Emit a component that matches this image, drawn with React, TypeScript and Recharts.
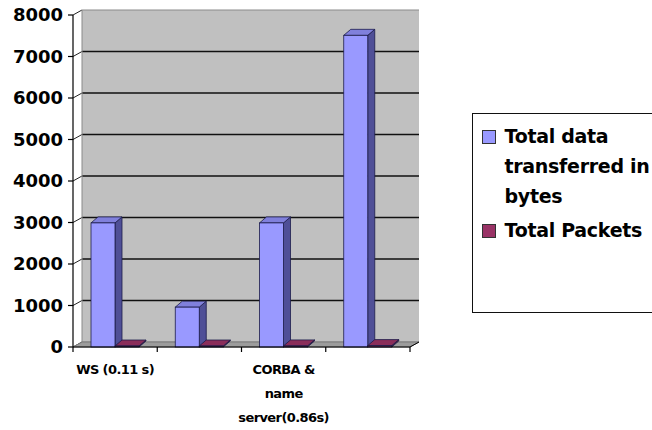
import React from "react";
import {
  BarChart,
  Bar,
  XAxis,
  YAxis,
  CartesianGrid,
  ReferenceArea,
  Legend,
} from "recharts";

const categories = ["WS (0.11 s)", "", "CORBA &\nname\nserver(0.86s)", ""];
const totalBytes = [2990, 960, 2990, 7510];
const totalPackets = [24, 10, 26, 34];
const yTicks = [0, 1000, 2000, 3000, 4000, 5000, 6000, 7000, 8000];
const seriesNames = ["Total data transferred in bytes", "Total Packets"];

const data = categories.map((name, i) => ({
  name,
  bytes: totalBytes[i],
  packets: totalPackets[i],
}));

// 3d look, Excel style
const DX = 9;
const DY = 5;
const BAR_DX = 7;
const BAR_DY = 6;
const PLOT_LEFT = 73;
const PLOT_RIGHT = 410;
const PLOT_TOP = 15;
const PLOT_BOTTOM = 347;
const BAND = (PLOT_RIGHT - PLOT_LEFT) / categories.length;
const FONT = "'DejaVu Sans', Verdana, sans-serif";

function Bar3D(props: any) {
  const { x, y, width, height, face, side, top } = props;
  if (width == null || height == null) return null;
  const stroke = "#1c1c4a";
  return (
    <g>
      <polygon
        points={`${x + width},${y} ${x + width + BAR_DX},${y - BAR_DY} ${x + width + BAR_DX},${y + height - BAR_DY} ${x + width},${y + height}`}
        fill={side}
        stroke={stroke}
        strokeWidth={0.8}
      />
      <polygon
        points={`${x},${y} ${x + BAR_DX},${y - BAR_DY} ${x + width + BAR_DX},${y - BAR_DY} ${x + width},${y}`}
        fill={top}
        stroke={stroke}
        strokeWidth={0.8}
      />
      <rect x={x} y={y} width={width} height={height} fill={face} stroke={stroke} strokeWidth={0.8} />
    </g>
  );
}

// floor + left side wall (back wall is the grid fill)
function Floor(props: any) {
  const { x, y, width, height } = props;
  const b = y + height;
  return (
    <g>
      <polyline
        points={`${x + DX},${b - DY} ${x + DX},${y - DY}`}
        fill="none"
        stroke="#8a8a8a"
        strokeWidth={1}
      />
      <polygon
        points={`${x},${b} ${x + DX},${b - DY} ${x + width + DX},${b - DY} ${x + width},${b}`}
        fill="#9c9c9c"
        stroke="#7a7a7a"
        strokeWidth={1}
      />
    </g>
  );
}

function gridLine(props: any) {
  const { x1, y1, x2, y2, y, height } = props;
  const edge = Math.abs(y1 - (y + DY)) < 0.5 || Math.abs(y1 - (y + height + DY)) < 0.5;
  return (
    <g key={props.key}>
      <line x1={x1 - DX} y1={y1} x2={x1} y2={y1 - DY} stroke="#222" strokeWidth={1} />
      <line
        x1={x1}
        y1={y1 - DY}
        x2={x2}
        y2={y2 - DY}
        stroke={edge ? "#8a8a8a" : "#111"}
        strokeWidth={edge ? 1 : 1.6}
      />
    </g>
  );
}

function YTick(props: any) {
  const { x, y, payload } = props;
  return (
    <text
      x={x - 3}
      y={y}
      dy="0.36em"
      textAnchor="end"
      fontFamily={FONT}
      fontWeight="bold"
      fontSize={18}
      fill="#000"
    >
      {payload.value}
    </text>
  );
}

function XTick(props: any) {
  const { x, y, payload, index } = props;
  const lines = String(payload.value).split("\n").filter((l) => l !== "");
  const isLast = index === categories.length - 1;
  return (
    <g>
      <line x1={x - BAND / 2} y1={y} x2={x - BAND / 2} y2={y + 5} stroke="#000" strokeWidth={1.2} />
      {isLast && (
        <>
          <line x1={x + BAND / 2} y1={y} x2={x + BAND / 2} y2={y + 5} stroke="#000" strokeWidth={1.2} />
          <line x1={x + BAND / 2} y1={y} x2={x + BAND / 2 + DX} y2={y - DY} stroke="#000" strokeWidth={1} />
        </>
      )}
      {lines.map((l, i) => (
        <text
          key={i}
          x={x}
          y={y + 27 + i * 24}
          textAnchor="middle"
          fontFamily={FONT}
          fontWeight="bold"
          fontSize={13}
          letterSpacing={-0.6}
          fill="#000"
        >
          {l}
        </text>
      ))}
    </g>
  );
}

function LegendBox({ payload }: any) {
  const items = [...(payload || [])].sort(
    (a: any, b: any) => seriesNames.indexOf(a.value) - seriesNames.indexOf(b.value)
  );
  return (
    <div
      style={{
        width: 200,
        height: 200,
        boxSizing: "border-box",
        border: "1.5px solid #111",
        background: "#fff",
        padding: "7px 0 0 8.5px",
        fontFamily: FONT,
        fontWeight: "bold",
        fontSize: 19,
        letterSpacing: -0.3,
        lineHeight: "30px",
        color: "#000",
        textAlign: "left",
      }}
    >
      {items.map((item: any, i: number) => (
        <div key={i} style={{ display: "flex", alignItems: "flex-start", marginBottom: 4 }}>
          <span
            style={{
              width: 12,
              height: 12,
              background: item.color,
              border: "1px solid #333",
              marginTop: 9,
              marginRight: 9,
              flex: "none",
            }}
          />
          <span style={{ width: 160, flex: "none" }}>{item.value}</span>
        </div>
      ))}
    </div>
  );
}

export default function App() {
  return (
    <div
      style={{
        position: "absolute",
        left: 0,
        top: 0,
        width: 652,
        height: 430,
        overflow: "hidden",
        background: "#fff",
      }}
    >
      <BarChart
        width={652}
        height={430}
        data={data}
        margin={{ top: PLOT_TOP, right: 652 - PLOT_RIGHT, left: 0, bottom: 0 }}
        barCategoryGap={18}
        barGap={0}
      >
        <CartesianGrid
          x={PLOT_LEFT + DX}
          y={PLOT_TOP - DY}
          width={PLOT_RIGHT - PLOT_LEFT}
          height={PLOT_BOTTOM - PLOT_TOP}
          vertical={false}
          horizontal={gridLine}
          fill="#C0C0C0"
          fillOpacity={1}
        />
        <ReferenceArea y1={0} y2={8000} shape={<Floor />} ifOverflow="visible" />
        <XAxis
          dataKey="name"
          interval={0}
          height={430 - PLOT_BOTTOM}
          tickSize={0}
          tickMargin={0}
          tick={<XTick />}
          axisLine={{ stroke: "#000", strokeWidth: 1.2 }}
        />
        <YAxis
          width={PLOT_LEFT}
          domain={[0, 8000]}
          ticks={yTicks}
          interval={0}
          tickSize={5}
          tickMargin={2}
          tick={<YTick />}
          axisLine={{ stroke: "#000", strokeWidth: 1.2 }}
          tickLine={{ stroke: "#000", strokeWidth: 1.2 }}
        />
        <Legend
          layout="horizontal"
          verticalAlign="middle"
          align="center"
          content={<LegendBox />}
          wrapperStyle={{ position: "absolute", left: 472, top: 113, width: 200, height: 200 }}
        />
        <Bar
          dataKey="bytes"
          name={seriesNames[0]}
          fill="#9999FF"
          isAnimationActive={false}
          shape={(p: any) => <Bar3D {...p} face="#9999FF" side="#4f4f97" top="#8080dc" />}
        />
        <Bar
          dataKey="packets"
          name={seriesNames[1]}
          fill="#993366"
          isAnimationActive={false}
          minPointSize={1}
          shape={(p: any) => <Bar3D {...p} face="#993366" side="#5a1e3c" top="#8a2d5a" />}
        />
      </BarChart>
    </div>
  );
}
